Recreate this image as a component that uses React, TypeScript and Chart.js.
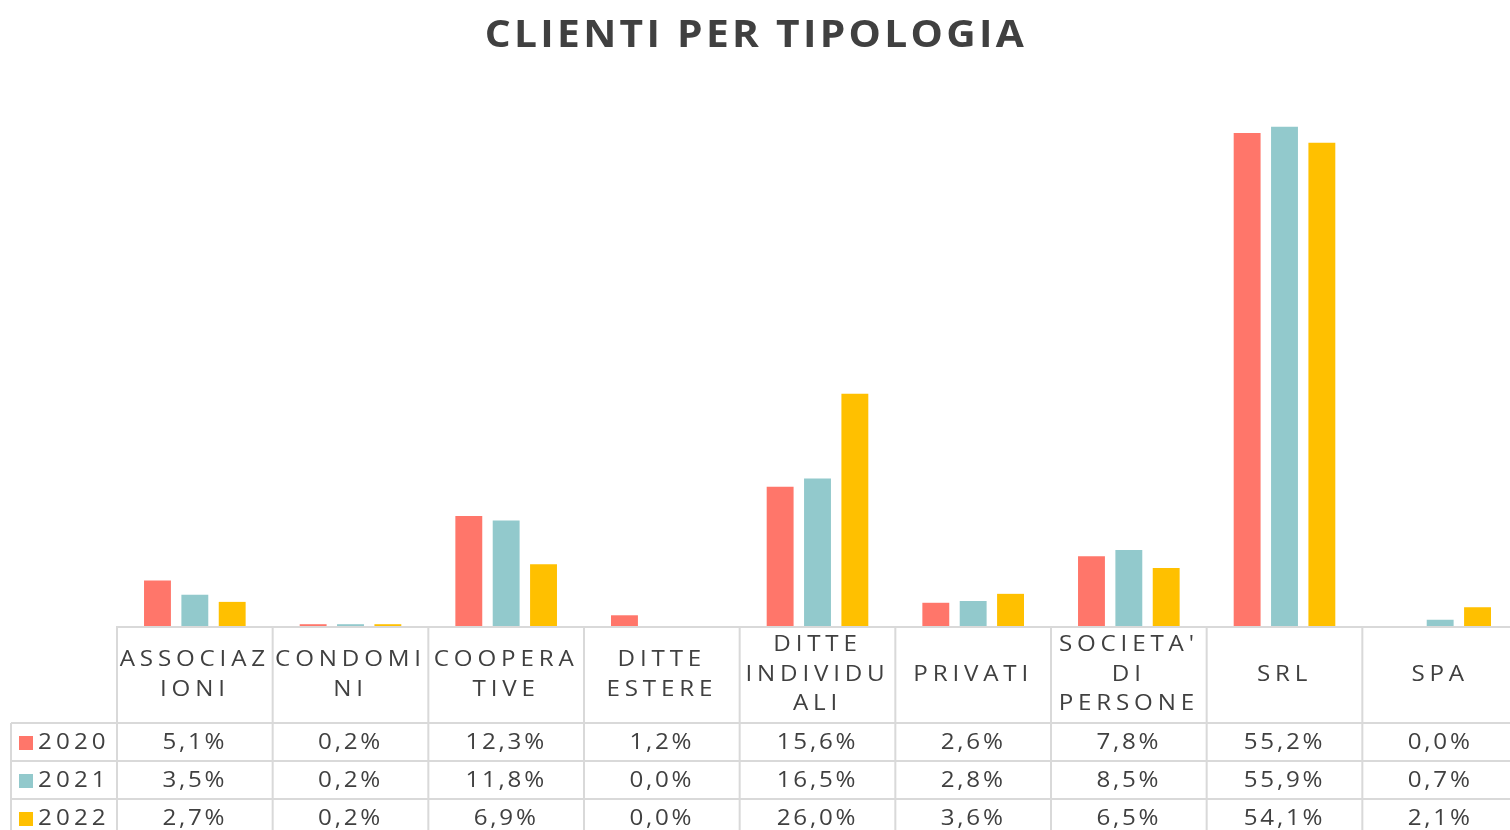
import React, { useEffect, useRef } from "react";
import { Chart, registerables } from "chart.js";

Chart.register(...registerables);

const categories: string[][] = [
  ["ASSOCIAZ", "IONI"],
  ["CONDOMI", "NI"],
  ["COOPERA", "TIVE"],
  ["DITTE", "ESTERE"],
  ["DITTE", "INDIVIDU", "ALI"],
  ["PRIVATI"],
  ["SOCIETA'", "DI", "PERSONE"],
  ["SRL"],
  ["SPA"],
];
const seriesNames = ["2020", "2021", "2022"];
const values2020 = [5.1, 0.2, 12.3, 1.2, 15.6, 2.6, 7.8, 55.2, 0.0];
const values2021 = [3.5, 0.2, 11.8, 0.0, 16.5, 2.8, 8.5, 55.9, 0.7];
const values2022 = [2.7, 0.2, 6.9, 0.0, 26.0, 3.6, 6.5, 54.1, 2.1];
const colors = ["#FF766A", "#92C9CC", "#FFC000"];
const titleText = "CLIENTI PER TIPOLOGIA";

const FONT = "'Open Sans', 'Noto Sans', sans-serif";
const TEXT_COLOR = "#404040";
const BORDER = "#d9d9d9";

function fmt(v: number) {
  return v.toFixed(1).replace(".", ",") + "%";
}

function drawText(
  ctx: CanvasRenderingContext2D,
  text: string,
  x: number,
  y: number,
  spacing: number,
  sx: number,
  align: CanvasTextAlign
) {
  ctx.save();
  ctx.translate(x, y);
  ctx.scale(sx, 1);
  ctx.textAlign = align;
  (ctx as any).letterSpacing = spacing + "px";
  ctx.fillText(text, 0, 0);
  ctx.restore();
}

const tablePlugin = {
  id: "dataTable",
  afterDraw(chart: any) {
    const ctx: CanvasRenderingContext2D = chart.ctx;
    const area = chart.chartArea;
    const n = categories.length;
    const colW = (area.right - area.left) / n;
    const top = area.bottom;
    const headerH = 97;
    const rowH = 38;
    const legendLeft = 11;
    const H = chart.height;
    ctx.save();
    ctx.textBaseline = "middle";
    // title
    ctx.fillStyle = TEXT_COLOR;
    ctx.font = `700 37px ${FONT}`;
    drawText(ctx, titleText, 756, 36, 3.0, 1.1, "center");

    // borders
    ctx.strokeStyle = BORDER;
    ctx.lineWidth = 2;
    ctx.beginPath();
    ctx.moveTo(area.left, top + 1);
    ctx.lineTo(chart.width, top + 1);
    for (let r = 0; r < 3; r++) {
      const y = top + headerH + r * rowH;
      ctx.moveTo(legendLeft, y);
      ctx.lineTo(chart.width, y);
    }
    for (let i = 0; i <= n; i++) {
      const x = area.left + i * colW;
      ctx.moveTo(x, top);
      ctx.lineTo(x, H);
    }
    ctx.moveTo(legendLeft, top + headerH);
    ctx.lineTo(legendLeft, H);
    ctx.stroke();

    // header labels
    ctx.fillStyle = TEXT_COLOR;
    ctx.font = `400 21px ${FONT}`;
    const lineH = 29.5;
    categories.forEach((lines, i) => {
      const cx = area.left + (i + 0.5) * colW;
      const cy = top + 49;
      lines.forEach((ln, j) => {
        const y = cy + (j - (lines.length - 1) / 2) * lineH;
        drawText(ctx, ln, cx, y, 4.2, 1.15, "center");
      });
    });

    // rows
    const datasets = chart.data.datasets;
    datasets.forEach((ds: any, r: number) => {
      const cy = top + headerH + r * rowH + rowH / 2 + 1;
      ctx.fillStyle = ds.backgroundColor;
      ctx.fillRect(19, cy - 7, 14, 14);
      ctx.fillStyle = TEXT_COLOR;
      drawText(ctx, ds.label, 38, cy, 3.6, 1.15, "left");
      ds.data.forEach((v: number, i: number) => {
        const cx = area.left + (i + 0.5) * colW;
        drawText(ctx, fmt(v), cx, cy, 2.4, 1.15, "center");
      });
    });
    ctx.restore();
  },
};

export default function App() {
  const ref = useRef<HTMLCanvasElement>(null);
  useEffect(() => {
    if (!ref.current) return;
    const chart = new Chart(ref.current, {
      type: "bar",
      data: {
        labels: categories.map((c) => c.join(" ")),
        datasets: [
          { label: seriesNames[0], data: values2020, backgroundColor: colors[0] },
          { label: seriesNames[1], data: values2021, backgroundColor: colors[1] },
          { label: seriesNames[2], data: values2022, backgroundColor: colors[2] },
        ],
      },
      options: {
        responsive: false,
        animation: false,
        devicePixelRatio: 1,
        layout: { padding: { left: 117, right: 2, top: 90, bottom: 204 } },
        datasets: { bar: { categoryPercentage: 0.72, barPercentage: 0.72 } },
        scales: {
          x: { display: false },
          y: { display: false, min: 0, max: 60 },
        },
        plugins: {
          legend: { display: false },
          title: { display: false },
          tooltip: { enabled: false },
        },
      },
      plugins: [tablePlugin],
    });
    return () => chart.destroy();
  }, []);
  return (
    <div style={{ position: "fixed", left: 0, top: 0, width: 1510, height: 830, overflow: "hidden", background: "#fff" }}>
      <canvas ref={ref} width={1520} height={830} style={{ display: "block", width: 1520, height: 830 }} />
    </div>
  );
}
